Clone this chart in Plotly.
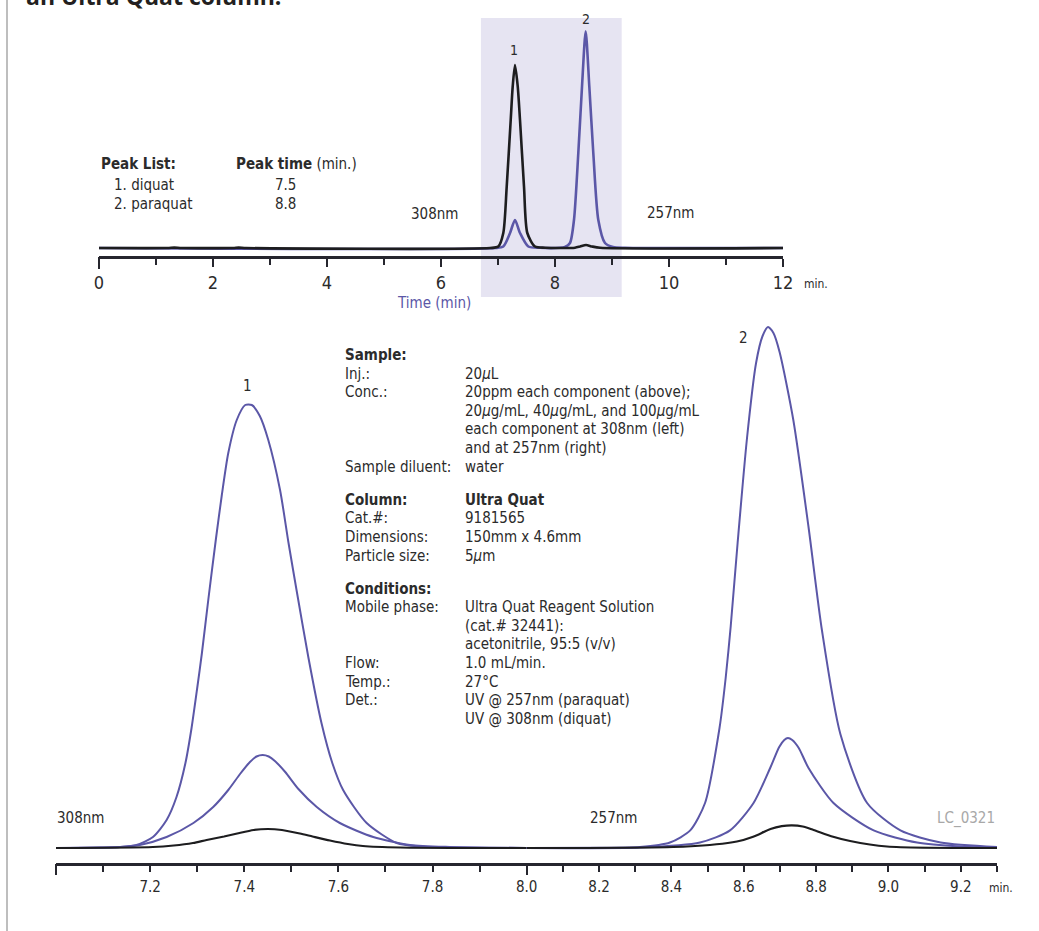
import plotly.graph_objects as go

W, H = 1039, 931

# ---------------- data (time in min, detector response in arbitrary units) -------------
# Overview chromatogram (top): black = 308nm trace, purple = 257nm trace
top_black_t = [0.0, 1.20, 1.32, 1.45, 2.35, 2.45, 2.58, 6.86, 7.005, 7.093, 7.153, 7.223, 7.258,
               7.298, 7.346, 7.386, 7.456, 7.514, 7.649, 7.825, 8.351, 8.44, 8.544, 8.65, 8.79, 12.0]
top_black_y = [0, 0, 0.4, 0, 0, 0.4, 0, 0, 1.5, 15, 61.6, 128, 161.6,
               183, 161.6, 128, 61.6, 15, 1.5, 0.3, 0.3, 1.5, 3, 1.5, 0.2, 0]
top_purple_t = [0.0, 6.947, 7.093, 7.211, 7.298, 7.386, 7.532, 7.737, 8.088, 8.175, 8.263, 8.333,
                8.409, 8.474, 8.538, 8.602, 8.672, 8.760, 8.877, 9.018, 9.228, 12.0]
top_purple_y = [0, 0, 1.5, 15, 28, 15, 1.5, 0.2, 0.2, 1, 5, 28,
                95, 161.6, 216.7, 161.6, 95, 28, 5, 1, 0.2, 0]

# Expanded view, diquat at 308nm (left panel): 100, 40, 20 ug/mL
dq_t_100 = [7.000, 7.093, 7.136, 7.171, 7.206, 7.235, 7.256, 7.275, 7.288, 7.300, 7.310, 7.324,
            7.340, 7.352, 7.366, 7.384, 7.402, 7.416, 7.433, 7.451, 7.476, 7.494, 7.511, 7.536,
            7.564, 7.587, 7.610, 7.660, 7.724, 7.773, 7.858, 8.000]
dq_y_100 = [0, 0.5, 1, 3, 11, 28, 51, 85, 120, 160, 195, 250,
            310, 352, 395, 428, 443, 443, 432, 408, 358, 305, 258, 191,
            125, 85, 58, 25, 5, 1.5, 0.5, 0]
dq_t_40 = [7.000, 7.136, 7.178, 7.235, 7.292, 7.334, 7.366, 7.391, 7.412, 7.426, 7.439, 7.452,
           7.465, 7.487, 7.515, 7.554, 7.603, 7.674, 7.752, 7.837, 8.000]
dq_y_40 = [0, 1, 3, 11, 25, 41, 58, 74, 86, 91.5, 93, 91.5,
           87, 76, 59, 41, 25, 11, 3, 1, 0]
dq_t_20 = [7.000, 7.206, 7.250, 7.291, 7.320, 7.357, 7.385, 7.420, 7.450, 7.480, 7.518, 7.545,
           7.582, 7.620, 7.652, 7.731, 8.000]
dq_y_20 = [0, 1, 2.5, 5, 8, 11.5, 14.5, 18, 19, 18, 14.5, 11.5,
           7.5, 4, 2, 0.5, 0]

# Expanded view, paraquat at 257nm (right panel): 100, 40, 20 ug/mL
pq_t_100 = [8.000, 8.203, 8.313, 8.396, 8.452, 8.493, 8.533, 8.550, 8.564, 8.583, 8.609, 8.634,
            8.652, 8.667, 8.682, 8.699, 8.737, 8.779, 8.816, 8.867, 8.941, 9.033, 9.144, 9.300]
pq_y_100 = [0, 0.3, 1, 5.5, 17.6, 45, 120, 170, 222, 305, 410, 485,
            512, 521, 515, 496, 428, 321, 218, 114, 45, 17.6, 5.5, 1]
pq_t_40 = [8.000, 8.313, 8.479, 8.562, 8.627, 8.673, 8.698, 8.712, 8.722, 8.734, 8.752, 8.779,
           8.848, 8.959, 9.079, 9.199, 9.300]
pq_y_40 = [0, 0.5, 5.5, 17.6, 45, 80, 101, 108, 110, 108, 100, 80,
           45, 17.6, 5.5, 1.5, 0.5]
pq_t_20 = [8.000, 8.443, 8.581, 8.626, 8.674, 8.705, 8.733, 8.763, 8.793, 8.847, 8.894, 8.996, 9.300]
pq_y_20 = [0, 1.5, 6.5, 11.3, 19, 21.8, 22.6, 21.5, 18, 11.3, 7, 1.5, 0]

# axis ticks
top_ticks = [0, 2, 4, 6, 8, 10, 12]
left_ticks = [round(7.0 + 0.1 * i, 1) for i in range(11)]
left_labels = ["7.2", "7.4", "7.6", "7.8"]
right_ticks = [round(8.0 + 0.1 * i, 1) for i in range(14)]
right_labels = ["8.0", "8.2", "8.4", "8.6", "8.8", "9.0", "9.2"]

# text content
peak_names = ["1. diquat", "2. paraquat"]
peak_times = ["7.5", "8.8"]
info_sections = [
    [("<b>Sample:</b>", ""),
     ("Inj.:", "20<i>µ</i>L"),
     ("Conc.:", "20ppm each component (above);"),
     ("", "20<i>µ</i>g/mL, 40<i>µ</i>g/mL, and 100<i>µ</i>g/mL"),
     ("", "each component at 308nm (left)"),
     ("", "and at 257nm (right)"),
     ("Sample diluent:", "water")],
    [("<b>Column:</b>", "<b>Ultra Quat</b>"),
     ("Cat.#:", "9181565"),
     ("Dimensions:", "150mm x 4.6mm"),
     ("Particle size:", "5<i>µ</i>m")],
    [("<b>Conditions:</b>", ""),
     ("Mobile phase:", "Ultra Quat Reagent Solution"),
     ("", "(cat.# 32441):"),
     ("", "acetonitrile, 95:5 (v/v)"),
     ("Flow:", "1.0 mL/min."),
     ("Temp.:", "27°C"),
     ("Det.:", "UV @ 257nm (paraquat)"),
     ("", "UV @ 308nm (diquat)")],
]

# ---------------- styling ----------------
PURPLE = "#5b57a7"
BLACK = "#1d1d1f"
AX = "#26262e"
TXT = "#2b2b2b"
FONT = "Liberation Sans Narrow, DejaVu Sans Condensed, sans-serif"


def px(x):
    return x / W


def py(y):
    return 1 - y / H


fig = go.Figure()


def add_line(t, y, color, width, xa, ya):
    fig.add_trace(go.Scatter(x=t, y=y, mode="lines",
                             line=dict(color=color, width=width, shape="spline", smoothing=0.7),
                             xaxis=xa, yaxis=ya, hoverinfo="skip", showlegend=False))


add_line(top_purple_t, top_purple_y, PURPLE, 2.6, "x", "y")
add_line(top_black_t, top_black_y, BLACK, 2.6, "x", "y")
add_line(dq_t_100, dq_y_100, PURPLE, 2, "x2", "y2")
add_line(dq_t_40, dq_y_40, PURPLE, 2, "x2", "y2")
add_line(dq_t_20, dq_y_20, BLACK, 2.2, "x2", "y2")
add_line(pq_t_100, pq_y_100, PURPLE, 2, "x3", "y2")
add_line(pq_t_40, pq_y_40, PURPLE, 2, "x3", "y2")
add_line(pq_t_20, pq_y_20, BLACK, 2.2, "x3", "y2")
# empty traces so overlay tick axes exist
fig.add_trace(go.Scatter(x=[], y=[], xaxis="x4", yaxis="y2", showlegend=False))
fig.add_trace(go.Scatter(x=[], y=[], xaxis="x5", yaxis="y", showlegend=False))

axis_common = dict(showline=True, linecolor=AX, linewidth=3, ticks="outside", tickcolor=AX,
                   tickwidth=2, showgrid=False, zeroline=False, tickmode="array",
                   automargin=False)

fig.update_layout(
    width=W, height=H, autosize=False,
    margin=dict(l=0, r=0, t=0, b=0, pad=0, autoexpand=False),
    paper_bgcolor="white", plot_bgcolor="rgba(0,0,0,0)",
    font=dict(family=FONT, color=TXT, size=15),
    showlegend=False,
    xaxis=dict(domain=[px(99), px(783)], range=[0, 12], anchor="y",
               tickvals=top_ticks, ticktext=[str(v) for v in top_ticks], ticklen=8,
               minor=dict(dtick=1, ticklen=6, tickwidth=2, tickcolor=AX, ticks="outside"),
               ticklabelstandoff=0,
               tickfont=dict(family=FONT, color=TXT, size=18), **axis_common),
    yaxis=dict(domain=[py(256), py(18)], range=[-8, 230], visible=False, anchor="x"),
    xaxis2=dict(domain=[px(56), px(526.7)], range=[7.0, 8.0], anchor="y2",
                tickvals=left_ticks,
                ticktext=[f"{v:.1f}" if f"{v:.1f}" in left_labels else "" for v in left_ticks],
                ticklen=6, ticklabelstandoff=2,
                tickfont=dict(family=FONT, color=TXT, size=15), **axis_common),
    xaxis3=dict(domain=[px(526.7), px(997)], range=[8.0, 9.3], anchor="y2",
                tickvals=right_ticks,
                ticktext=[f"{v:.1f}" if f"{v:.1f}" in right_labels else "" for v in right_ticks],
                ticklen=6, ticklabelstandoff=2,
                tickfont=dict(family=FONT, color=TXT, size=15), **axis_common),
    yaxis2=dict(domain=[py(863), py(320)], range=[-15, 528], visible=False, anchor="x2"),
    xaxis4=dict(overlaying="x2", range=[7.0, 8.0], anchor="y2", tickmode="array",
                tickvals=[7.0, 8.0], ticktext=["", ""], ticks="outside", ticklen=11,
                tickwidth=2, tickcolor=AX, showline=False, showgrid=False, zeroline=False),
    xaxis5=dict(overlaying="x", range=[0, 12], anchor="y", tickmode="array",
                tickvals=[0], ticktext=[""], ticks="outside", ticklen=12,
                tickwidth=2, tickcolor=AX, showline=False, showgrid=False, zeroline=False),
)

# shaded window in the overview + page border
fig.add_shape(type="rect", xref="x", yref="paper", x0=6.70, x1=9.17, y0=py(297), y1=py(18),
              fillcolor="#e6e4f2", line=dict(width=0), layer="below")
fig.add_shape(type="line", xref="paper", yref="paper", x0=px(7), x1=px(7), y0=0, y1=1,
              line=dict(color="#a9a9a9", width=1.5))

ann = []


def text(x, y, s, size=15, anchor="left", color=TXT, family=FONT):
    ann.append(dict(x=px(x), y=py(y), xref="paper", yref="paper", text=s, showarrow=False,
                    xanchor=anchor, yanchor="middle", font=dict(size=size, color=color, family=family)))


# cut-off title at very top
text(24, -4, "<b>an Ultra Quat column.</b>", size=23, color="#231f20", family="Open Sans")

# peak list
text(99, 164, "<b>Peak List:</b>")
text(234, 164, "<b>Peak time</b> (min.)")
for i, (n, tm) in enumerate(zip(peak_names, peak_times)):
    text(112, 185 + 19 * i, n)
    text(273, 185 + 19 * i, tm)

# overview labels
text(409, 214, "308nm")
text(645, 213, "257nm")
text(514, 50, "1", size=14, anchor="center")
text(586, 19, "2", size=14, anchor="center")
text(802, 284, "min.", size=12)
text(434, 303, "Time (min)", color=PURPLE, anchor="center")

# expanded view labels
text(247, 386, "1", anchor="center")
text(743, 338, "2", anchor="center")
text(55, 818, "308nm")
text(588, 818, "257nm")
text(935, 818, "LC_0321", color="#a8a8a8")
text(987, 888, "min.", size=12)

# info block
y = 355
for sec in info_sections:
    for lab, val in sec:
        if lab:
            text(343, y, lab)
        if val:
            text(463, y, val)
        y += 18.6
    y += 14.5

fig.update_layout(annotations=ann)
fig.write_html("out.html", config={"displayModeBar": False},
               post_script="document.body.style.margin='0';document.body.style.overflow='hidden';")
